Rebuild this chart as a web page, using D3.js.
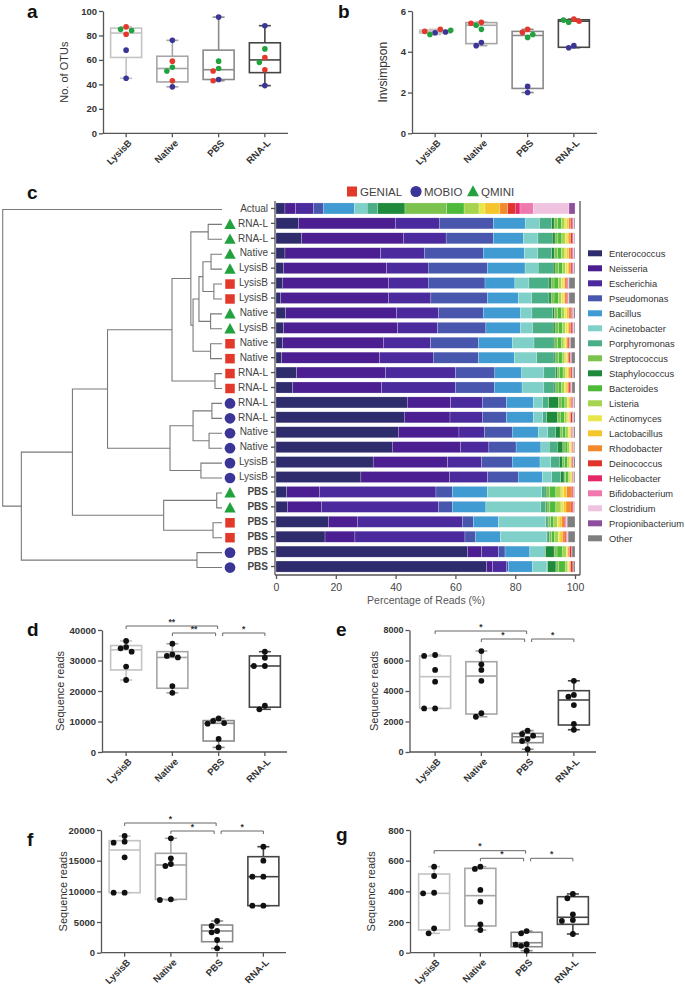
<!DOCTYPE html>
<html><head><meta charset="utf-8">
<script src="https://cdn.jsdelivr.net/npm/d3@7/dist/d3.min.js"></script>
<style>
html,body{margin:0;padding:0;background:#fff;}
svg{display:block;}
text{font-family:Arial,"Liberation Sans",Helvetica,sans-serif;}
</style></head><body>
<svg id="fig" width="685" height="986"></svg>
<script>
// ---------------- DATA ----------------
const groups = ["LysisB","Native","PBS","RNA-L"];
const kits = ["GENIAL","MOBIO","QMINI"];

// panel a: number of OTUs
const otuValues = [[87,85,84,81,68,45],[76,59,54,51,43,38],[95,59,53,51,44,43],[88,69,62,58,52,39]];
const otuKits = [["GENIAL","QMINI","QMINI","GENIAL","MOBIO","MOBIO"],["MOBIO","GENIAL","QMINI","QMINI","GENIAL","MOBIO"],["MOBIO","QMINI","QMINI","GENIAL","MOBIO","GENIAL"],["MOBIO","QMINI","GENIAL","QMINI","GENIAL","MOBIO"]];
const otuBoxes = [[45,62,82,86,87],[38,42,53,63,76],[43,44,52,68,95],[39,49.6,60,74,88]];

// panel b: inverse Simpson
const invsValues = [[4.93,4.85,5.0,4.97,5.1,5.05],[5.45,5.3,5.4,5.1,4.45,4.3],[5.1,4.95,4.85,4.7,2.3,2.0],[5.6,5.55,5.5,5.45,4.3,4.2]];
const invsKits = [["MOBIO","QMINI","GENIAL","MOBIO","GENIAL","QMINI"],["GENIAL","QMINI","GENIAL","QMINI","MOBIO","MOBIO"],["GENIAL","GENIAL","QMINI","QMINI","MOBIO","MOBIO"],["GENIAL","QMINI","GENIAL","QMINI","MOBIO","MOBIO"]];
const invsBoxes = [[4.85,4.92,4.98,5.06,5.1],[4.3,4.4,5.3,5.43,5.45],[2.0,2.2,4.8,5.0,5.1],[4.2,4.22,5.5,5.57,5.6]];

// panel c: composition
const taxa = ["Enterococcus","Neisseria","Escherichia","Pseudomonas","Bacillus","Acinetobacter","Porphyromonas","Streptococcus","Staphylococcus","Bacteroides","Listeria","Actinomyces","Lactobacillus","Rhodobacter","Deinococcus","Helicobacter","Bifidobacterium","Clostridium","Propionibacterium","Other"];
const taxaColors = ["#2f2c6e","#4b1f92","#4a2a9c","#4856ad","#3f9bd2","#7fd0c9","#4aae87","#7cc24e","#1f8a3c","#4dba3a","#a6d44e","#e8e64a","#f4c62c","#f2892b","#e0332a","#e32767","#ef78ad","#efc3e0","#8f4f9f","#7f7f7f"];
const stackOrder = [0,1,2,3,4,5,6,8,7,9,10,11,12,13,14,15,16,17,18,19];
const sampleLabels = ["Actual","RNA-L","RNA-L","Native","LysisB","LysisB","LysisB","Native","LysisB","Native","Native","RNA-L","RNA-L","RNA-L","RNA-L","Native","Native","LysisB","LysisB","PBS","PBS","PBS","PBS","PBS","PBS"];
const sampleKits = [null,"QMINI","QMINI","QMINI","QMINI","GENIAL","GENIAL","QMINI","QMINI","GENIAL","GENIAL","GENIAL","GENIAL","MOBIO","MOBIO","MOBIO","MOBIO","MOBIO","MOBIO","QMINI","QMINI","GENIAL","GENIAL","MOBIO","MOBIO"];
const composition = [
 [3.0,3.5,6.0,3.3,10.4,4.3,3.5,14.0,9.1,5.8,5.0,2.0,5.0,2.6,2.5,1.6,4.5,11.9,2.0,0],
 [7.5,32.4,14.7,18.1,10.8,4.6,4.1,1.2,0.8,1.2,1.2,0.7,0.6,0.6,0.5,0.3,0.2,0.1,0.1,0.3],
 [8.6,34.0,14.3,15.8,10.0,4.9,4.8,1.0,0.9,1.3,1.1,0.7,0.6,0.6,0.5,0.3,0.2,0.1,0.1,0.2],
 [3.0,32.0,14.6,19.7,13.8,4.4,4.7,1.2,0.8,1.2,1.2,0.7,0.6,0.6,0.5,0.3,0.2,0.1,0.1,0.3],
 [2.5,34.5,13.9,19.8,12.6,4.4,5.0,1.2,0.6,1.3,1.0,0.7,0.5,0.5,0.5,0.3,0.2,0.1,0.1,0.3],
 [2.1,35.5,13.3,19.0,10.0,4.7,6.7,1.0,0.7,1.5,1.0,0.6,0.5,0.5,0.4,0.2,0.1,0.1,0.1,2.0],
 [1.6,36.0,14.2,18.9,10.3,4.5,5.8,1.0,0.7,1.5,1.0,0.6,0.5,0.5,0.4,0.2,0.1,0.1,0.1,2.0],
 [3.2,37.2,14.0,14.9,12.5,3.8,6.9,1.1,0.6,1.3,1.0,0.7,0.6,0.6,0.5,0.3,0.2,0.1,0.1,0.4],
 [2.5,38.2,13.3,16.2,11.6,4.0,6.9,1.2,0.6,1.3,1.0,0.7,0.5,0.5,0.5,0.3,0.2,0.1,0.1,0.3],
 [2.2,33.7,15.8,16.0,11.3,7.3,6.4,1.0,0.5,1.2,0.9,0.6,0.4,0.4,0.4,0.2,0.1,0.0,0.1,1.5],
 [1.9,32.7,18.0,15.1,12.0,7.5,5.8,1.0,0.5,1.2,0.9,0.6,0.4,0.4,0.4,0.2,0.1,0.0,0.1,1.2],
 [6.9,29.8,23.3,13.2,9.0,7.4,3.9,0.9,0.5,1.1,0.9,0.6,0.5,0.5,0.5,0.2,0.1,0.1,0.1,0.5],
 [5.6,29.7,24.7,13.0,9.3,7.3,3.4,0.9,0.5,1.1,0.9,0.6,0.5,0.5,0.5,0.2,0.1,0.1,0.1,1.0],
 [43.9,14.5,10.6,8.1,9.0,3.1,2.0,1.0,3.2,1.2,0.9,0.5,0.4,0.4,0.4,0.2,0.1,0.1,0.1,0.3],
 [42.9,15.3,10.8,8.1,9.0,3.1,1.3,1.0,3.6,1.3,0.9,0.5,0.4,0.4,0.5,0.2,0.1,0.1,0.1,0.4],
 [40.9,20.3,8.5,9.3,8.7,3.2,2.6,0.9,1.5,1.0,0.8,0.5,0.4,0.3,0.3,0.1,0.1,0.1,0.1,0.4],
 [38.9,22.9,9.4,9.1,8.3,2.8,2.7,0.8,1.8,0.9,0.6,0.4,0.3,0.3,0.3,0.1,0.1,0.0,0.1,0.2],
 [32.5,24.9,11.4,10.2,9.3,3.6,2.9,0.7,1.0,0.9,0.6,0.4,0.3,0.3,0.3,0.1,0.1,0.0,0.1,0.4],
 [28.4,29.6,12.8,10.2,8.1,3.1,3.0,0.6,1.1,0.8,0.6,0.4,0.3,0.2,0.2,0.1,0.1,0.0,0.1,0.3],
 [3.6,10.9,39.0,5.5,11.7,18.2,1.1,1.0,0.5,2.1,1.7,0.9,1.0,1.6,0.5,0.2,0.2,0.1,0.1,0.1],
 [3.8,11.5,39.0,4.7,11.2,18.3,1.7,1.0,0.4,2.0,1.7,0.8,0.9,1.7,0.6,0.2,0.2,0.1,0.1,0.1],
 [17.5,9.7,35.1,3.7,8.4,15.8,0.5,0.8,0.4,1.0,1.2,0.6,0.8,0.9,0.4,0.2,0.2,0.1,0.1,2.6],
 [16.4,10.0,36.8,3.6,8.3,15.4,0.5,0.8,0.4,1.0,1.2,0.6,0.8,0.9,0.4,0.2,0.2,0.1,0.1,2.3],
 [64.0,4.8,5.6,2.2,8.3,4.8,0.5,1.0,2.8,1.9,1.2,0.3,0.3,0.5,0.6,0.2,0.0,0.0,0.0,1.0],
 [70.5,2.0,4.7,0.5,8.0,4.8,0.4,1.0,2.7,2.1,0.9,0.3,0.3,0.4,0.7,0.2,0.0,0.0,0.0,0.5]
];
const percentTicks = [0,20,40,60,80,100];
// dendrogram: [height, left, right]; leaves = row index
const dendrogram = [1.0, 0,
  [0.915,
    [0.682,
      [0.522,
        [0.228,
          [0.142,
            [0.063, 1, 2],
            [0.132,
              [0.105,
                [0.087, [0.050, 3, 4], [0.037, 5, 6]],
                [0.052, 7, 8]],
              [0.052, 9, 10]]],
          [0.032, 11, 12]],
        [0.237,
          [0.132, [0.046, 13, 14], [0.059, 15, 16]],
          [0.096, 17, 18]]],
      [0.266, [0.024, 19, 20], [0.041, 21, 22]]],
    [0.114, 23, 24]]];

// panels d-g: sequence reads
const dValues = [[36400,34400,34000,32900,28000,23600],[35500,32000,31500,31000,21600,19400],[11000,10200,9500,9300,4300,1500],[32900,30900,28200,28200,15200,14000]];
const dBoxes = [[23600,26900,33500,34900,36400],[19400,20900,31000,32900,35500],[1500,3600,9400,10300,11000],[14000,14700,28200,31500,32900]];
const dStars = ["**","**","*"];
const eValues = [[6360,6300,5380,4610,2860,2860],[6620,5750,5380,4670,2540,2310],[1400,1180,1070,850,720,180],[4670,3740,3630,3080,1840,1460]];
const eBoxes = [[2860,2860,4940,6300,6360],[2310,2490,4980,5920,6620],[180,610,1000,1220,1400],[1460,1770,3410,4020,4670]];
const eStars = ["*","*","*"];
const fValues = [[19020,18100,17930,15550,9780,9780],[18650,15390,14460,14130,8700,8590],[5170,4350,3540,3320,2070,710],[17280,15000,12390,12390,7660,7660]];
const fBoxes = [[9780,9780,16740,18260,19020],[8590,8700,14300,16200,18650],[710,1790,3540,4510,5170],[7660,7660,12390,15650,17280]];
const fStars = ["*","*","*"];
const gValues = [[561,500,391,387,159,126],[561,546,409,333,185,148],[141,126,55,52,45,13],[383,355,250,213,207,122]];
const gBoxes = [[126,148,387,513,561],[148,174,372,550,561],[13,39,65,133,141],[122,185,231,365,383]];
const gStars = ["*","*","*"];
const sigPairs = [[0,2],[1,2],[2,3]];

// ---------------- DRAWING ----------------
const svg = d3.select("#fig");
const FONT = 'Arial, "Liberation Sans", Helvetica, sans-serif';
const kitColor = {GENIAL:"#e2392b", MOBIO:"#3a3596", QMINI:"#22a23e"};
const boxStroke = ["#c3c3c3","#a6a6a6","#8a8a8a","#454545"];
const AX = "#555";

function styleAxis(sel, fs, weight, color){
  sel.attr("font-family", FONT);
  sel.select(".domain").attr("stroke", AX).attr("stroke-width", 1.3);
  sel.selectAll(".tick line").attr("stroke", AX).attr("stroke-width", 1.3);
  sel.selectAll(".tick text").attr("font-size", fs).attr("font-weight", weight).attr("fill", color);
}

function dodge(vals, y, r, step){
  const placed = [], offs = [];
  const cands = [0,-step,step,-2*step,2*step,-3*step,3*step];
  vals.forEach(v => {
    const py = y(v);
    let chosen = 0;
    for (const c of cands){
      if (placed.every(p => Math.hypot(p[0]-c, p[1]-py) >= 2*r - 0.2)){ chosen = c; break; }
    }
    placed.push([chosen, py]); offs.push(chosen);
  });
  return offs;
}

function panelLetter(t, x, y){
  svg.append("text").attr("x", x).attr("y", y).text(t)
    .attr("font-size", 19).attr("font-weight", "bold").attr("fill", "#111").attr("font-family", FONT);
}

function boxPanel(o){
  const g = svg.append("g");
  const y = d3.scaleLinear().domain(o.domain).range([o.yBot, o.yTop]);
  const x = d3.scaleBand().domain(groups).range(o.band);
  const cx = k => x(groups[k]) + x.bandwidth()/2;
  const ya = g.append("g").attr("transform", `translate(${o.x0},0)`)
    .call(d3.axisLeft(y).tickValues(o.ticks).tickSize(4).tickSizeOuter(0).tickPadding(2).tickFormat(d3.format("d")));
  styleAxis(ya, o.tickFs, "bold", "#333");
  g.append("line").attr("x1", o.x0).attr("x2", o.x1).attr("y1", o.yBot).attr("y2", o.yBot)
    .attr("stroke", AX).attr("stroke-width", 1.3);
  groups.forEach((name, k) => {
    g.append("line").attr("x1", cx(k)).attr("x2", cx(k)).attr("y1", o.yBot).attr("y2", o.yBot + 4)
      .attr("stroke", AX).attr("stroke-width", 1.3);
    g.append("text").text(name)
      .attr("transform", `translate(${cx(k)+4},${o.yBot+8}) rotate(-45)`)
      .attr("text-anchor", "end").attr("dy", "0.35em")
      .attr("font-size", 9.5).attr("font-weight", "bold").attr("fill", "#333");
  });
  const bw = 31, cw = 12;
  o.boxes.forEach((b, k) => {
    const c = cx(k), col = boxStroke[k];
    const [mn, q1, md, q3, mx] = b;
    const s = {stroke: col, "stroke-width": 1.6, fill: "none"};
    const ln = (x1,y1,x2,y2) => { const l = g.append("line").attr("x1",x1).attr("y1",y1).attr("x2",x2).attr("y2",y2); for (const k2 in s) l.attr(k2, s[k2]); };
    ln(c, y(q3), c, y(mx)); ln(c, y(q1), c, y(mn));
    ln(c-cw/2, y(mx), c+cw/2, y(mx)); ln(c-cw/2, y(mn), c+cw/2, y(mn));
    g.append("rect").attr("x", c-bw/2).attr("y", y(q3)).attr("width", bw).attr("height", Math.max(0.5, y(q1)-y(q3)))
      .attr("fill", "none").attr("stroke", col).attr("stroke-width", 1.6);
    ln(c-bw/2, y(md), c+bw/2, y(md));
  });
  o.values.forEach((vals, k) => {
    const offs = dodge(vals, y, o.r, o.step);
    vals.forEach((v, i) => {
      g.append("circle").attr("cx", cx(k) + offs[i]).attr("cy", y(v)).attr("r", o.r)
        .attr("fill", o.kits ? kitColor[o.kits[k][i]] : "#111");
    });
  });
  g.append("text").text(o.ylabel)
    .attr("transform", `translate(${o.ylx},${(o.yTop+o.yBot)/2}) rotate(-90)`)
    .attr("text-anchor", "middle").attr("font-size", o.ylFs).attr("fill", "#333");
  if (o.stars){
    sigPairs.forEach((p, i) => {
      const [a, b] = p;
      let xa, xb;
      if (b === 2){ xa = cx(a); xb = cx(b) - (a === 0 ? 1 : 3); }
      else { xa = cx(a) + 4; xb = cx(b); }
      const yl = o.bLevels[i];
      g.append("path").attr("d", `M${xa},${yl+3}V${yl}H${xb}V${yl+3}`)
        .attr("fill", "none").attr("stroke", "#666").attr("stroke-width", 1);
      g.append("text").text(o.stars[i]).attr("x", (xa+xb)/2).attr("y", yl - 1.5)
        .attr("text-anchor", "middle").attr("font-size", 8.5).attr("font-weight", "bold").attr("fill", "#333");
    });
  }
}

// ---- panel a
panelLetter("a", 27, 18);
boxPanel({x0:103, x1:288, band:[103,288], yTop:11, yBot:133.3, domain:[0,100], ticks:[0,20,40,60,80,100], tickFs:9.5,
  values: otuValues, kits: otuKits, boxes: otuBoxes, r:2.8, step:5.5, ylabel:"No. of OTUs", ylx:68, ylFs:11});
// ---- panel b
panelLetter("b", 338, 18);
boxPanel({x0:412, x1:597, band:[412,597], yTop:11, yBot:133.3, domain:[0,6], ticks:[0,2,4,6], tickFs:9.5,
  values: invsValues, kits: invsKits, boxes: invsBoxes, r:2.8, step:5.2, ylabel:"Invsimpson", ylx:387, ylFs:12});

// ---- panel c
panelLetter("c", 27, 199);
(function(){
  const g = svg.append("g");
  const x = d3.scaleLinear().domain([0,100]).range([276,575]);
  const y = d3.scaleBand().domain(d3.range(sampleLabels.length)).range([201,574]).paddingInner(0.26).paddingOuter(0.13);
  const yc = i => y(i) + y.bandwidth()/2;
  const stack = d3.stack().keys(d3.range(taxa.length)).value((d, k) => d[k]).order(() => stackOrder);
  const series = stack(composition);
  series.forEach(s => {
    g.append("g").selectAll("rect").data(s).join("rect")
      .attr("x", d => x(d[0])).attr("width", d => Math.max(0, x(d[1]) - x(d[0])))
      .attr("y", (d, i) => y(i)).attr("height", y.bandwidth())
      .attr("fill", taxaColors[s.key])
      .attr("stroke", "#ffffff").attr("stroke-width", 0.4).attr("stroke-opacity", 0.55);
  });
  // left axis
  const la = g.append("g").attr("transform", "translate(275,0)")
    .call(d3.axisLeft(y).tickSize(4).tickSizeOuter(0).tickFormat(i => sampleLabels[i]).tickPadding(3));
  styleAxis(la, 10, "normal", "#444");
  la.selectAll(".tick text").attr("font-weight", i => sampleLabels[i] === "PBS" ? "bold" : "normal");
  la.select(".domain").attr("d", "M0,201V575");
  // bottom axis
  const ba = g.append("g").attr("transform", "translate(0,575)")
    .call(d3.axisBottom(x).tickValues(percentTicks).tickSize(4).tickSizeOuter(0).tickPadding(5));
  styleAxis(ba, 10.5, "normal", "#444");
  ba.select(".domain").attr("d", "M275,0H580");
  g.append("line").attr("x1", 580).attr("x2", 580).attr("y1", 201).attr("y2", 575).attr("stroke", AX).attr("stroke-width", 1.3);
  g.append("text").text("Percentage of Reads (%)").attr("x", 426).attr("y", 604)
    .attr("text-anchor", "middle").attr("font-size", 10.5).attr("fill", "#555");

  // kit symbols
  function sym(sel, kit, cxp, cyp, s){
    if (kit === "GENIAL") sel.append("rect").attr("x", cxp - s/2).attr("y", cyp - s/2).attr("width", s).attr("height", s).attr("fill", kitColor[kit]);
    else if (kit === "MOBIO") sel.append("circle").attr("cx", cxp).attr("cy", cyp).attr("r", s/2 + 0.6).attr("fill", kitColor[kit]);
    else sel.append("path").attr("d", `M${cxp},${cyp - s*0.62}L${cxp + s*0.6},${cyp + s*0.48}L${cxp - s*0.6},${cyp + s*0.48}Z`).attr("fill", kitColor[kit]);
  }
  sampleKits.forEach((k, i) => { if (k) sym(g, k, 230, yc(i) + 1, 9.5); });

  // kit legend
  const legX = [352, 416, 473];
  kits.forEach((k, i) => {
    sym(g, k, legX[i], 191.5, 10);
    g.append("text").text(k).attr("x", legX[i] + 8).attr("y", 195.5).attr("font-size", 11.5).attr("fill", "#444");
  });

  // taxa legend
  taxa.forEach((t, i) => {
    const yy = 253.3 + i * 15;
    g.append("rect").attr("x", 588).attr("y", yy - 3).attr("width", 14).attr("height", 6).attr("fill", taxaColors[i]);
    g.append("text").text(t).attr("x", 609).attr("y", yy).attr("dy", "0.35em").attr("font-size", 9.3).attr("fill", "#333");
  });

  // dendrogram
  const xd = d3.scaleLinear().domain([0,1]).range([222, 2.7]);
  const dg = g.append("g").attr("stroke", "#7a7a7a").attr("stroke-width", 1.1).attr("fill", "none");
  function walk(node){
    if (typeof node === "number") return {y: yc(node) + 1, h: 0};
    const [h, a, b] = node;
    const A = walk(a), B = walk(b);
    const xs = xd(h);
    dg.append("path").attr("d", `M${xd(A.h)},${A.y}H${xs}V${B.y}H${xd(B.h)}`);
    return {y: (A.y + B.y) / 2, h};
  }
  walk(dendrogram);
})();

// ---- panel d
panelLetter("d", 27, 636);
boxPanel({x0:102, x1:287, band:[103,288], yTop:630, yBot:752, domain:[0,40000], ticks:[0,10000,20000,30000,40000], tickFs:9.5,
  values: dValues, boxes: dBoxes, r:2.9, step:5.5, ylabel:"Sequence reads", ylx:64, ylFs:11, stars: dStars, bLevels:[626,633,633]});
// ---- panel e
panelLetter("e", 336, 636);
boxPanel({x0:409.5, x1:596, band:[412,597], yTop:630, yBot:752, domain:[0,8000], ticks:[0,2000,4000,6000,8000], tickFs:9,
  values: eValues, boxes: eBoxes, r:2.9, step:5.5, ylabel:"Sequence reads", ylx:378, ylFs:11, stars: eStars, bLevels:[631,639,639]});
// ---- panel f
panelLetter("f", 27, 846);
boxPanel({x0:101, x1:286, band:[101.5,286.5], yTop:830, yBot:952.7, domain:[0,20000], ticks:[0,5000,10000,15000,20000], tickFs:9.5,
  values: fValues, boxes: fBoxes, r:2.9, step:5.5, ylabel:"Sequence reads", ylx:67, ylFs:11, stars: fStars, bLevels:[823,831,831]});
// ---- panel g
panelLetter("g", 336, 841);
boxPanel({x0:410, x1:596, band:[411,596], yTop:830, yBot:952.7, domain:[0,800], ticks:[0,200,400,600,800], tickFs:9.5,
  values: gValues, boxes: gBoxes, r:2.9, step:5.5, ylabel:"Sequence reads", ylx:375, ylFs:11, stars: gStars, bLevels:[850.7,858.3,858.3]});
</script>
</body></html>
